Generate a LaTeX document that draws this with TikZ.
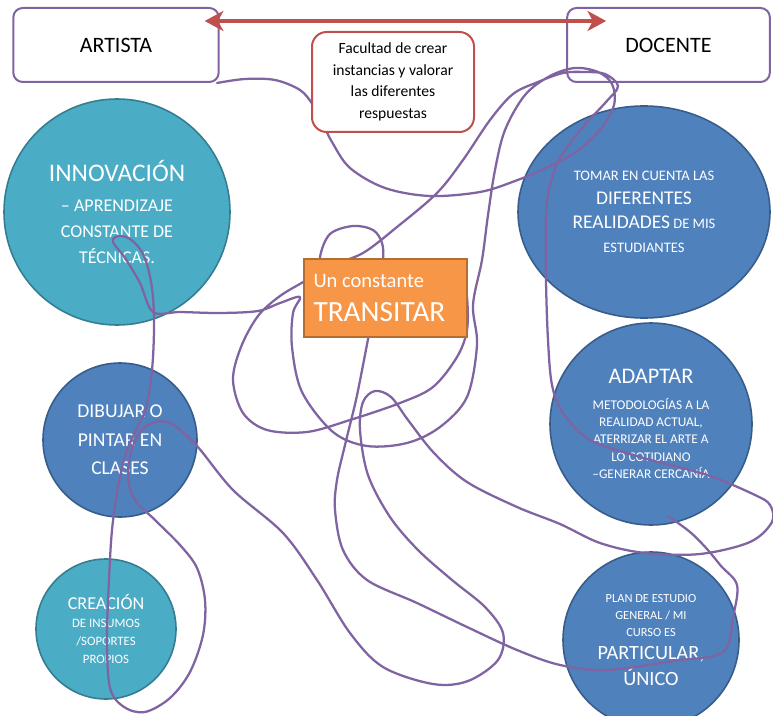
\documentclass[tikz,border=0pt]{standalone}
\usepackage{fontspec}
\setmainfont{Carlito}
\usepackage{tikz}
\usetikzlibrary{positioning,shapes.geometric,arrows.meta,calc}

\definecolor{tealfill}{HTML}{4BACC6}
\definecolor{tealline}{HTML}{357D91}
\definecolor{bluefill}{HTML}{4F81BD}
\definecolor{blueline}{HTML}{385D8A}
\definecolor{orangefill}{HTML}{F79646}
\definecolor{orangeline}{HTML}{B66D31}
\definecolor{lilac}{HTML}{8064A2}
\definecolor{brick}{HTML}{C0504D}

\newcommand{\fs}[2]{\fontsize{#1}{#2}\selectfont}

\begin{document}
\begin{tikzpicture}[x=0.75pt, y=-0.75pt,
    rolebox/.style={draw=lilac, line width=1.5pt, fill=white, rounded corners=7pt, minimum width=154pt, minimum height=55.5pt, font=\fs{16.5}{20}},
    ball/.style={draw, line width=1.2pt, text=white, align=center, inner sep=0pt},
    tealball/.style={ball, circle, draw=tealline, fill=tealfill},
    blueball/.style={ball, circle, draw=blueline, fill=bluefill},
    scribble/.style={draw=lilac, line width=1.7pt, line cap=round, line join=round}]
    \fill[white] (0,0) rectangle (773,716);
    \useasboundingbox (0,0) rectangle (773,716);

    \node [tealball, minimum size=169.5pt, font=\fs{13.5}{19.5}] (innovacion) at (117,212) {{\fs{19}{24}INNOVACIÓN}\\[3pt]– APRENDIZAJE\\CONSTANTE DE\\TÉCNICAS.};
    \node [ball, ellipse, draw=blueline, fill=bluefill, minimum width=189pt, minimum height=159pt, font=\fs{10.9}{18}] (realidades) at (644,212) {TOMAR EN CUENTA LAS\\{\fs{14.6}{18}DIFERENTES}\\{\fs{14.6}{18}REALIDADES} DE MIS\\ESTUDIANTES};
    \node [blueball, minimum size=115.5pt, font=\fs{14.7}{21.5}] (dibujar) at (120,440) {DIBUJAR O\\PINTAR EN\\CLASES};
    \node [blueball, minimum size=151.5pt, font=\fs{10}{13}] (adaptar) at (651,424) {{\fs{16.7}{20}ADAPTAR}\\[6pt]METODOLOGÍAS A LA\\REALIDAD ACTUAL,\\ATERRIZAR EL ARTE A\\LO COTIDIANO\\–GENERAR CERCANÍA};
    \node [tealball, minimum size=105pt, font=\fs{9.6}{13.5}] (creacion) at (106,629) {{\fs{13.6}{16}CREACIÓN}\\DE INSUMOS\\/SOPORTES\\PROPIOS};
    \node [blueball, minimum size=132pt, font=\fs{9.3}{12.75}] (particular) at (651,640) {PLAN DE ESTUDIO\\GENERAL / MI\\CURSO ES\\[4pt]{\fs{15.2}{19}PARTICULAR,}\\[4pt]{\fs{15.2}{19}ÚNICO}};

    \node [rolebox] (artista) at (116,45) {ARTISTA};
    \node [rolebox, minimum width=152pt] (docente) at (668.5,45) {DOCENTE};

    \draw [scribble] plot [smooth, tension=0.55] coordinates {
        (217,83) (245,79) (275,80) (300,90) (313,105) (322,122) (332,142) (350,168) (385,188) (430,196) (480,192) (515,181) (546,168) (576,152) (600,130) (614,105) (612,84) (598,72) (575,68) (550,76) (525,95) (505,130) (495,170) (488,215) (482,260) (473,305) (477,345) (467,397) (440,427) (407,443) (367,446) (333,432) (302,392) (292,347) (293,313) (300,297) (280,303) (258,311) (220,313) (180,312) (153,312) (140,283) (125,258) (113,242) (118,236) (130,239) (142,252) (149,272) (153,297) (154,330) (152,370) (146,408) (137,428) (126,453) (118,487) (112,530) (109,580) (107,640) (110,688) (124,707) (145,712) (170,698) (190,672) (203,635) (205,600) (197,568) (180,545) (155,520) (135,500) (128,478) (131,452) (141,431) (155,422) (172,424) (197,446) (233,490) (283,533) (317,580) (350,633) (383,667) (433,684) (468,681) (498,660) (503,633) (485,607) (452,580) (418,550) (390,517) (368,475) (360,430) (363,402) (375,391) (391,397) (408,420) (434,453) (467,482) (517,507) (560,524) (600,543) (645,553) (700,554) (750,542) (772,522) (770,505) (755,495) (707,475) (640,457) (590,440) (563,413) (552,385) (548,340) (546,280) (546,215) (550,185) (560,158) (582,128) (606,102) (618,86) (605,74) (585,72) (563,73) (538,82) (513,94) (490,120) (463,160) (437,193) (397,227) (363,253) (330,266) (305,281) (280,296) (258,316) (241,347) (233,380) (243,413) (267,430) (307,432) (350,420) (400,403) (433,387) (457,357) (467,330) (467,297) (462,275)};
    \draw [scribble] plot [smooth, tension=0.55] coordinates {
        (322,280) (320,257) (330,234) (353,226) (373,230) (382,243) (383,262) (378,300) (370,330) (364,360) (356,400) (345,445) (337,480) (335,510) (343,550) (367,580) (417,603) (467,627) (517,650) (560,665) (607,670) (673,661) (723,652) (733,617) (737,585) (721,566) (707,549) (690,532) (668,516)};

    \node [draw=brick, line width=1.5pt, fill=white, rounded corners=11pt, minimum width=121.5pt, minimum height=75pt, align=center, font=\fs{11.7}{16.2}] (facultad) at (393,82) {Facultad de crear\\instancias y valorar\\las diferentes\\respuestas};
    \node [draw=orangeline, line width=1.2pt, fill=orangefill, text=white, minimum width=122pt, minimum height=58.5pt, text width=108pt, align=left, inner sep=0pt, font=\fs{22}{25}] (transitar) at (385.5,298) {{\spaceskip=0pt\fs{15.4}{18}Un constante}\\TRANSITAR};

    \draw [brick, line width=3pt, {Stealth[length=14pt, width=15pt, inset=4pt]}-{Stealth[length=14pt, width=15pt, inset=4pt]}] ($(artista.north east)+(-15,14)$) -- ($(docente.north west)+(40,14)$);
\end{tikzpicture}
\end{document}
